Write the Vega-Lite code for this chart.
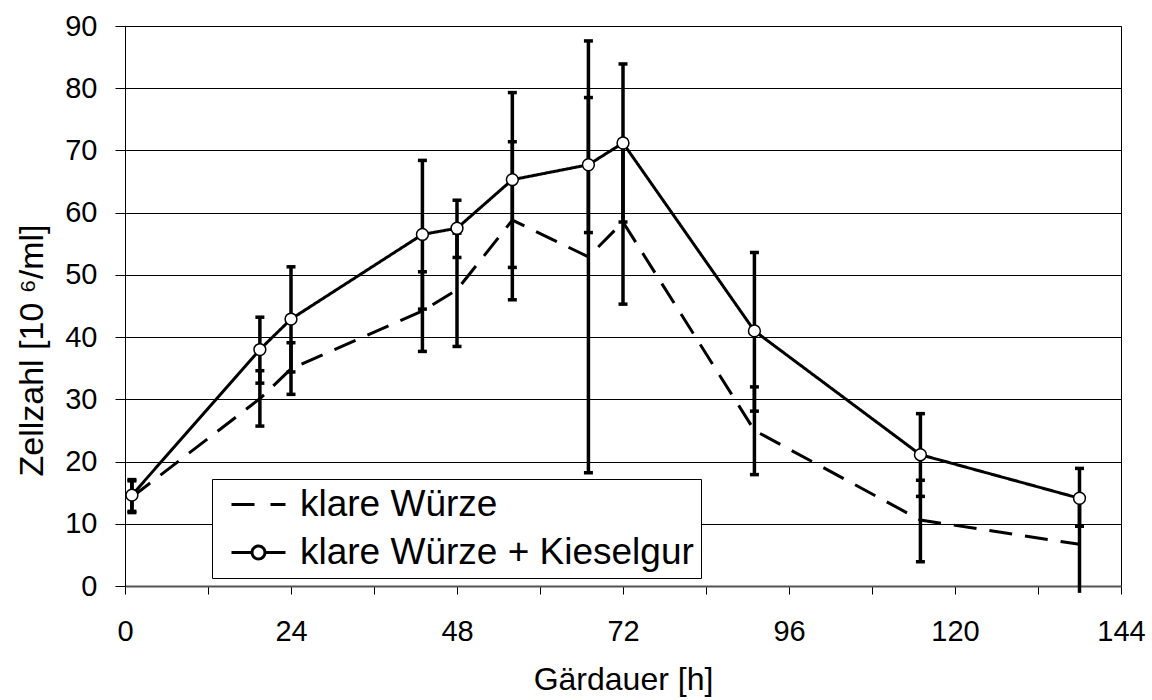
{
  "$schema": "https://vega.github.io/schema/vega-lite/v6.json",
  "width": 996,
  "height": 560,
  "autosize": {"type": "none"},
  "padding": {"left": 125, "top": 26, "right": 31, "bottom": 114},
  "background": "white",
  "config": {
    "font": "Liberation Sans",
    "view": {"stroke": "black", "strokeWidth": 1},
    "axis": {"labelColor": "black", "titleColor": "black", "titleFontWeight": "normal", "labelFont": "Liberation Sans", "titleFont": "Liberation Sans"}
  },
  "data": {
    "values": [
      {"series": "klare Würze", "t": 1, "mean": 14.3, "lo": 11.8, "hi": 16.9},
      {"series": "klare Würze", "t": 19.5, "mean": 30.1, "lo": 25.7, "hi": 34.6},
      {"series": "klare Würze", "t": 24, "mean": 34.9, "lo": 30.8, "hi": 39.1},
      {"series": "klare Würze", "t": 43, "mean": 44.2, "lo": 37.7, "hi": 50.5},
      {"series": "klare Würze", "t": 48, "mean": 47.6, "lo": 38.5, "hi": 56.7},
      {"series": "klare Würze", "t": 56, "mean": 58.8, "lo": 46.0, "hi": 71.4},
      {"series": "klare Würze", "t": 67, "mean": 52.9, "lo": 18.2, "hi": 87.6},
      {"series": "klare Würze", "t": 72, "mean": 58.5, "lo": 45.3, "hi": 71.7},
      {"series": "klare Würze", "t": 91, "mean": 25.0, "lo": 17.9, "hi": 32.0},
      {"series": "klare Würze", "t": 115, "mean": 10.6, "lo": 3.9, "hi": 17.0},
      {"series": "klare Würze", "t": 138, "mean": 6.7, "lo": -1.1, "hi": 14.5},
      {"series": "klare Würze + Kieselgur", "t": 1, "mean": 14.6, "lo": 12.0, "hi": 17.1},
      {"series": "klare Würze + Kieselgur", "t": 19.5, "mean": 38.0, "lo": 32.6, "hi": 43.2},
      {"series": "klare Würze + Kieselgur", "t": 24, "mean": 42.9, "lo": 34.4, "hi": 51.3},
      {"series": "klare Würze + Kieselgur", "t": 43, "mean": 56.5, "lo": 44.5, "hi": 68.4},
      {"series": "klare Würze + Kieselgur", "t": 48, "mean": 57.5, "lo": 52.8, "hi": 62.0},
      {"series": "klare Würze + Kieselgur", "t": 56, "mean": 65.3, "lo": 51.2, "hi": 79.3},
      {"series": "klare Würze + Kieselgur", "t": 67, "mean": 67.7, "lo": 56.8, "hi": 78.5},
      {"series": "klare Würze + Kieselgur", "t": 72, "mean": 71.2, "lo": 58.5, "hi": 83.9},
      {"series": "klare Würze + Kieselgur", "t": 91, "mean": 41.0, "lo": 28.1, "hi": 53.6},
      {"series": "klare Würze + Kieselgur", "t": 115, "mean": 21.1, "lo": 14.4, "hi": 27.7},
      {"series": "klare Würze + Kieselgur", "t": 138, "mean": 14.1, "lo": 9.6, "hi": 18.9}
    ]
  },
  "encoding": {
    "x": {
      "field": "t", "type": "quantitative",
      "scale": {"domain": [0, 144], "nice": false, "zero": false},
      "axis": {
        "title": "Gärdauer [h]",
        "values": [0, 12, 24, 36, 48, 60, 72, 84, 96, 108, 120, 132, 144],
        "labelExpr": "datum.value % 24 == 0 ? datum.label : ''",
        "grid": false,
        "tickSize": 8, "tickColor": "black", "tickWidth": 1,
        "domainColor": "#555555", "domainWidth": 2,
        "labelFontSize": 29, "labelPadding": 23,
        "titleFontSize": 32, "titlePadding": 18,
        "labelFlush": false, "labelOverlap": false
      }
    },
    "y": {
      "field": "mean", "type": "quantitative",
      "scale": {"domain": [0, 90], "nice": false},
      "axis": {
        "title": "Zellzahl [10  ⁶/ml]",
        "values": [0, 10, 20, 30, 40, 50, 60, 70, 80, 90],
        "grid": true, "gridColor": "black", "gridWidth": 1, "gridOpacity": 1,
        "tickSize": 10, "tickColor": "black", "tickWidth": 1,
        "domainColor": "black", "domainWidth": 1,
        "labelFontSize": 29, "labelPadding": 18,
        "titleFontSize": 34, "titleAngle": -90,
        "titleX": -83, "titleY": 324, "titleBaseline": "alphabetic", "titleAlign": "center",
        "labelFlush": false, "labelOverlap": false
      }
    }
  },
  "layer": [
    {
      "mark": {"type": "rule", "strokeWidth": 3.5, "color": "black"},
      "encoding": {
        "y": {"field": "lo", "type": "quantitative"},
        "y2": {"field": "hi"}
      }
    },
    {
      "mark": {"type": "tick", "orient": "horizontal", "size": 9, "thickness": 3.5, "color": "black", "clip": true, "opacity": 1},
      "encoding": {
        "y": {"field": "lo", "type": "quantitative"}
      }
    },
    {
      "mark": {"type": "tick", "orient": "horizontal", "size": 9, "thickness": 3.5, "color": "black", "clip": true, "opacity": 1},
      "encoding": {
        "y": {"field": "hi", "type": "quantitative"}
      }
    },
    {
      "mark": {"type": "line", "strokeWidth": 3},
      "encoding": {
        "color": {
          "field": "series", "type": "nominal",
          "scale": {"domain": ["klare Würze", "klare Würze + Kieselgur"], "range": ["black", "black"]},
          "legend": {
            "orient": "none", "legendX": 87, "legendY": 453, "title": null,
            "symbolSize": 900, "symbolStrokeWidth": 3,
            "labelFontSize": 37, "labelFont": "Liberation Sans", "labelColor": "black",
            "labelOffset": 44, "labelLimit": 800, "rowPadding": 10, "padding": 7,
            "strokeColor": "black", "fillColor": "white",
            "encode": {
              "symbols": {
                "update": {
                  "shape": {"signal": "datum.value === 'klare Würze' ? 'M-0.4,0H1.7M2.2,0H3.2' : 'M-0.4,0H0.97M1.83,0H3.2M0.97,0A0.43,0.43 0 1,0 1.83,0A0.43,0.43 0 1,0 0.97,0'"},
                  "fill": {"value": "white"},
                  "stroke": {"value": "black"},
                  "strokeWidth": {"value": 3},
                  "opacity": {"value": 1}
                }
              }
            }
          }
        },
        "strokeDash": {
          "field": "series", "type": "nominal",
          "scale": {"domain": ["klare Würze", "klare Würze + Kieselgur"], "range": [[23, 13], [1, 0]]},
          "legend": null
        }
      }
    },
    {
      "transform": [{"filter": "datum.series === 'klare Würze + Kieselgur'"}],
      "mark": {"type": "point", "shape": "circle", "filled": true, "fill": "white", "stroke": "black", "strokeWidth": 1.5, "size": 140, "opacity": 1}
    }
  ]
}
